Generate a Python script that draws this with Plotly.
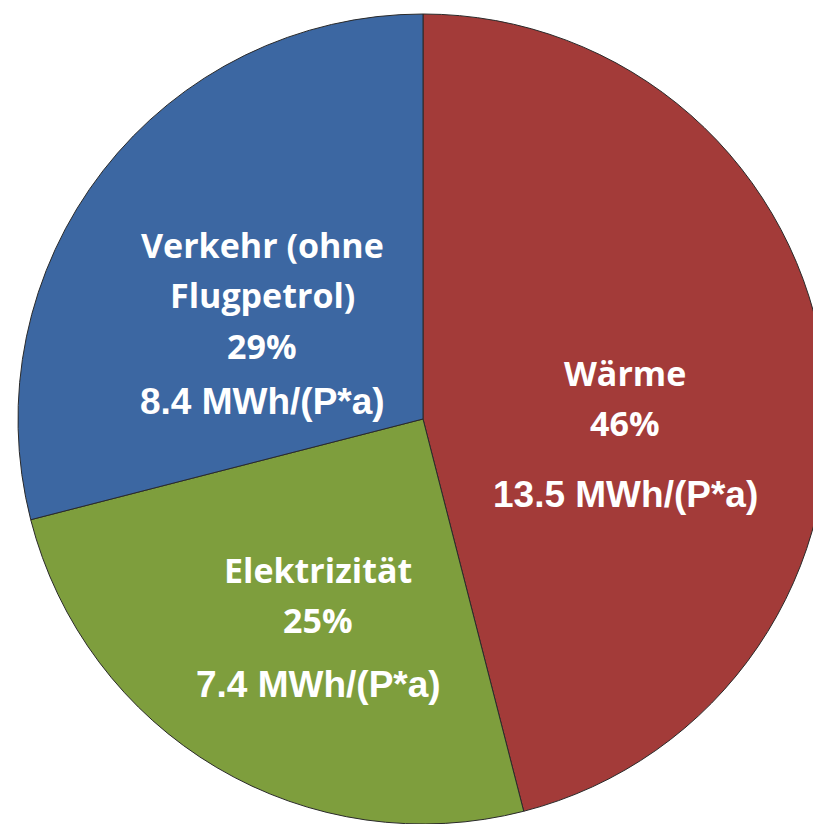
import plotly.graph_objects as go

categories = ["Wärme", "Elektrizität", "Verkehr (ohne Flugpetrol)"]
name_lines = [["Wärme"], ["Elektrizität"], ["Verkehr (ohne", "Flugpetrol)"]]
shares = [46, 25, 29]
energy = ["13.5", "7.4", "8.4"]
colors = ["#A33B39", "#7E9E3D", "#3C67A2"]

W, H = 820, 816
ML, MT = 10, 6
PAGE_OFF = 8  # default body margin of the html page

fig = go.Figure()
fig.add_trace(go.Pie(
    labels=categories,
    values=shares,
    sort=False,
    direction="clockwise",
    rotation=0,
    marker=dict(colors=colors, line=dict(color="#2a2a2a", width=1)),
    textinfo="none",
    hoverinfo="label+percent",
    showlegend=False,
))

def px(x, y):
    x -= PAGE_OFF
    y -= PAGE_OFF
    return (x - ML) / (W - ML), 1 - (y - MT) / (H - MT)

# label layout: (center x, y of each line of text) in screen pixels
label_layout = [
    (625, [373, 423], 494),
    (318, [570, 620], 684),
    (262, [245, 295, 346], 402),
]
name_font = dict(family="Open Sans, Lato, sans-serif", size=34, color="white")
val_font = dict(family="Liberation Sans, Arial, sans-serif", size=37, color="white")

for lines, sh, en, (cx, ys, yv) in zip(name_lines, shares, energy, label_layout):
    texts = lines + [f"{sh}%"]
    for t, yy in zip(texts, ys):
        x, y = px(cx, yy)
        fig.add_annotation(x=x, y=y, xref="paper", yref="paper", xanchor="center",
                           yanchor="middle", text=f"<b>{t}</b>", showarrow=False,
                           font=name_font)
    x, y = px(cx, yv)
    fig.add_annotation(x=x, y=y, xref="paper", yref="paper", xanchor="center",
                       yanchor="middle", text=f"<b>{en} MWh/(P*a)</b>", showarrow=False,
                       font=val_font)

fig.update_layout(
    width=W, height=H,
    margin=dict(l=ML, r=0, t=MT, b=0),
    paper_bgcolor="white",
    plot_bgcolor="white",
)

fig.write_html("out.html")
